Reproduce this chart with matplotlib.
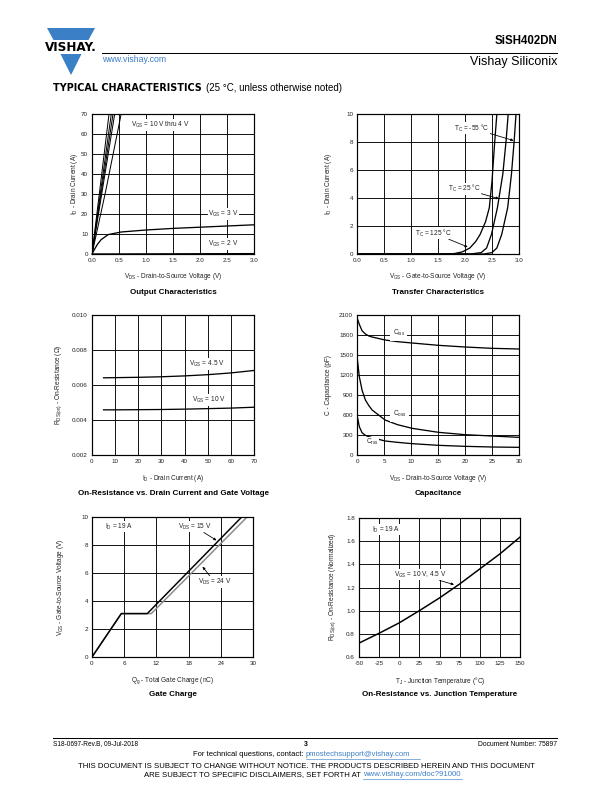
import numpy as np
import matplotlib
matplotlib.use('Agg')
import matplotlib.pyplot as plt
from matplotlib.patches import Polygon

plt.rcParams['font.family'] = ['Liberation Sans', 'DejaVu Sans']
plt.rcParams['mathtext.default'] = 'regular'

W, H = 612, 792
BLUE = '#3b7fc6'

# ---- Output characteristics ----
out_vgs_hi_vds = [[0, 0.315], [0, 0.357], [0, 0.389], [0, 0.42], [0, 0.25, 0.54]]
out_vgs_hi_id = [[0, 70], [0, 70], [0, 70], [0, 70], [0, 31, 70]]
out_vgs3_vds = [0, 0.05, 0.1, 0.17, 0.3, 0.54, 1.0, 1.5, 2.0, 2.5, 3.0]
out_vgs3_id = [0, 2.5, 4.8, 7.2, 9.7, 11.0, 12.0, 12.8, 13.4, 14.0, 14.6]
out_vgs2_vds = [0, 3.0]
out_vgs2_id = [0, 0.2]

# ---- Transfer characteristics ----
tr_125_vgs = [0, 1.6, 1.8, 1.95, 2.09, 2.2, 2.28, 2.38, 2.45, 2.5, 2.55, 2.59]
tr_125_id = [0, 0, 0.03, 0.15, 0.43, 0.9, 1.4, 2.3, 3.3, 5.2, 8.0, 10.0]
tr_25_vgs = [0, 2.1, 2.3, 2.4, 2.49, 2.6, 2.7, 2.76, 2.8]
tr_25_id = [0, 0, 0.1, 0.43, 1.4, 3.3, 5.7, 8.05, 10.0]
tr_m55_vgs = [0, 2.35, 2.5, 2.59, 2.68, 2.79, 2.86, 2.91, 2.945]
tr_m55_id = [0, 0, 0.1, 0.43, 1.4, 3.3, 5.7, 8.05, 10.0]

# ---- On-resistance vs drain current ----
ron_id = [5, 10, 20, 30, 40, 50, 60, 70]
ron_45 = [0.00641, 0.00642, 0.00644, 0.00647, 0.00652, 0.00659, 0.00669, 0.00683]
ron_10 = [0.00458, 0.00458, 0.00459, 0.00460, 0.00462, 0.00465, 0.00468, 0.00473]

# ---- Capacitance ----
cap_vds = [0, 0.43, 0.93, 1.55, 2.2, 2.8, 5.2, 7.5, 10.2, 15.1, 20, 25, 30]
cap_ciss = [2060, 1960, 1865, 1815, 1785, 1770, 1725, 1700, 1680, 1645, 1620, 1600, 1590]
cap_coss = [1480, 1175, 975, 825, 740, 675, 525, 455, 400, 340, 305, 285, 265]
cap_crss = [600, 425, 335, 295, 275, 260, 210, 190, 170, 145, 130, 120, 115]

# ---- Gate charge ----
gc_qg_15 = [0, 5.46, 10.3, 27.9]
gc_qg_24 = [0, 5.46, 11.05, 28.9]
gc_vgs = [0, 3.1, 3.1, 10]

# ---- On-resistance vs junction temperature ----
tj_temp = [-50, -25, 0, 25, 50, 75, 100, 125, 150]
tj_rnorm = [0.72, 0.805, 0.895, 1.0, 1.11, 1.23, 1.36, 1.49, 1.635]


fig = plt.figure(figsize=(W / 72, H / 72), dpi=72)


def px_axes(l, t, r, b):
    return fig.add_axes([l / W, 1 - b / H, (r - l) / W, (b - t) / H])


def ftext(x, y, s, **kw):
    kw.setdefault('ha', 'left')
    kw.setdefault('va', 'center')
    return fig.text(x / W, 1 - y / H, s, **kw)


def style(ax, xlim, ylim, xt, yt, xfmt, yfmt):
    ax.set_xlim(xlim)
    ax.set_ylim(ylim)
    ax.set_xticks(xt)
    ax.set_yticks(yt)
    ax.set_xticklabels([xfmt.format(v) for v in xt])
    ax.set_yticklabels([yfmt.format(v) for v in yt])
    ax.grid(True, color='black', lw=0.9)
    ax.set_axisbelow(True)
    ax.tick_params(length=0, pad=4, labelsize=6.3, colors='#222222')
    for s in ax.spines.values():
        s.set_linewidth(1.2)


FS = 6.5
TFS = 8
lbl = dict(fontsize=FS, color='#222222')
bx = dict(facecolor='white', edgecolor='none', pad=0.6)
LW = 1.3

# Output characteristics
a1 = px_axes(92, 114, 254, 254)
style(a1, (0, 3), (0, 70), np.arange(0, 3.01, 0.5), np.arange(0, 71, 10), '{:.1f}', '{:.0f}')
for xs, ys in zip(out_vgs_hi_vds, out_vgs_hi_id):
    a1.plot(xs, ys, color='black', lw=1.0)
a1.plot(out_vgs3_vds, out_vgs3_id, color='black', lw=LW)
a1.plot(out_vgs2_vds, out_vgs2_id, color='black', lw=LW, clip_on=False)
a1.text(0.72, 64.5, '$V_{GS}$ = 10 V thru 4 V', va='center', bbox=bx, **lbl)
a1.text(2.15, 20, '$V_{GS}$ = 3 V', va='center', bbox=bx, **lbl)
a1.text(2.15, 5, '$V_{GS}$ = 2 V', va='center', bbox=bx, **lbl)
ftext(74, 184, '$I_D$ - Drain Current (A)', rotation=90, ha='center', **lbl)
ftext(173, 277, '$V_{DS}$ - Drain-to-Source Voltage (V)', ha='center', **lbl)
ftext(173, 292, 'Output Characteristics', ha='center', fontsize=TFS, weight='bold')

# Transfer characteristics
a2 = px_axes(357, 114, 519, 254)
style(a2, (0, 3), (0, 10), np.arange(0, 3.01, 0.5), np.arange(0, 11, 2), '{:.1f}', '{:.0f}')
a2.plot(tr_125_vgs, tr_125_id, color='black', lw=LW)
a2.plot(tr_25_vgs, tr_25_id, color='black', lw=LW)
a2.plot(tr_m55_vgs, tr_m55_id, color='black', lw=LW)
ap = dict(arrowstyle='-|>', color='black', lw=0.8, mutation_scale=5, shrinkA=0, shrinkB=0)
a2.annotate('$T_C$ = -55 °C', xy=(2.9, 8.1), xytext=(1.8, 9.0), va='center',
            arrowprops=ap, bbox=bx, **lbl)
a2.annotate('$T_C$ = 25 °C', xy=(2.63, 3.95), xytext=(1.68, 4.65), va='center',
            arrowprops=ap, bbox=bx, **lbl)
a2.annotate('$T_C$ = 125 °C', xy=(2.05, 0.5), xytext=(1.08, 1.5), va='center',
            arrowprops=ap, bbox=bx, **lbl)
ftext(329, 184, '$I_D$ - Drain Current (A)', rotation=90, ha='center', **lbl)
ftext(438, 277, '$V_{GS}$ - Gate-to-Source Voltage (V)', ha='center', **lbl)
ftext(438, 292, 'Transfer Characteristics', ha='center', fontsize=TFS, weight='bold')

# On-resistance vs drain current
a3 = px_axes(92, 315, 254, 455)
style(a3, (0, 70), (0.002, 0.010), np.arange(0, 71, 10), np.arange(0.002, 0.01001, 0.002), '{:.0f}', '{:.3f}')
a3.plot(ron_id, ron_45, color='black', lw=LW)
a3.plot(ron_id, ron_10, color='black', lw=LW)
a3.text(42.0, 0.0072, '$V_{GS}$ = 4.5 V', va='center', bbox=bx, **lbl)
a3.text(43.0, 0.00514, '$V_{GS}$ = 10 V', va='center', bbox=bx, **lbl)
ftext(59, 385, '$R_{DS(on)}$ - On-Resistance (Ω)', rotation=90, ha='center', **lbl)
ftext(173, 479, '$I_D$ - Drain Current (A)', ha='center', **lbl)
ftext(173, 493, 'On-Resistance vs. Drain Current and Gate Voltage', ha='center', fontsize=TFS, weight='bold')

# Capacitance
a4 = px_axes(357, 315, 519, 455)
style(a4, (0, 30), (0, 2100), np.arange(0, 31, 5), np.arange(0, 2101, 300), '{:.0f}', '{:.0f}')
a4.plot(cap_vds, cap_ciss, color='black', lw=LW)
a4.plot(cap_vds, cap_coss, color='black', lw=LW)
a4.plot(cap_vds, cap_crss, color='black', lw=LW)
a4.text(6.6, 1830, '$C_{iss}$', va='center', bbox=dict(facecolor='white', edgecolor='none', pad=2.5), **lbl)
a4.text(6.6, 610, '$C_{oss}$', va='center', bbox=dict(facecolor='white', edgecolor='none', pad=2.5), **lbl)
a4.text(1.6, 190, '$C_{rss}$', va='center', bbox=bx, **lbl)
ftext(329, 385, 'C - Capacitance (pF)', rotation=90, ha='center', **lbl)
ftext(438, 479, '$V_{DS}$ - Drain-to-Source Voltage (V)', ha='center', **lbl)
ftext(438, 493, 'Capacitance', ha='center', fontsize=TFS, weight='bold')

# Gate charge
a5 = px_axes(92, 517, 253, 657)
style(a5, (0, 30), (0, 10), np.arange(0, 31, 6), np.arange(0, 11, 2), '{:.0f}', '{:.0f}')
a5.plot(gc_qg_24, gc_vgs, color='#8a8a8a', lw=1.5)
a5.plot(gc_qg_15, gc_vgs, color='black', lw=1.5)
a5.text(2.4, 9.3, '$I_D$ = 19 A', va='center', bbox=bx, **lbl)
a5.annotate('$V_{DS}$ = 15 V', xy=(23.2, 8.33), xytext=(16.0, 9.3), va='center',
            arrowprops=ap, bbox=bx, **lbl)
a5.annotate('$V_{DS}$ = 24 V', xy=(20.6, 6.45), xytext=(19.7, 5.36), va='center',
            arrowprops=ap, bbox=bx, **lbl)
ftext(61, 587, '$V_{GS}$ - Gate-to-Source Voltage (V)', rotation=90, ha='center', **lbl)
ftext(173, 681, '$Q_g$ - Total Gate Charge (nC)', ha='center', **lbl)
ftext(173, 694, 'Gate Charge', ha='center', fontsize=TFS, weight='bold')

# On-resistance vs junction temperature
a6 = px_axes(359, 518, 520, 657)
style(a6, (-50, 150), (0.6, 1.8), np.arange(-50, 151, 25), np.arange(0.6, 1.81, 0.2), '{:.0f}', '{:.1f}')
a6.plot(tj_temp, tj_rnorm, color='black', lw=1.5)
a6.text(-34, 1.7, '$I_D$ = 19 A', va='center', bbox=bx, **lbl)
a6.annotate('$V_{GS}$ = 10 V, 4.5 V', xy=(68, 1.225), xytext=(-7, 1.31), va='center',
            arrowprops=ap, bbox=bx, **lbl)
ftext(333, 587, '$R_{DS(on)}$ - On-Resistance (Normalized)', rotation=90, ha='center', **lbl)
ftext(440, 681, '$T_J$ - Junction Temperature (°C)', ha='center', **lbl)
ftext(440, 694, 'On-Resistance vs. Junction Temperature', ha='center', fontsize=TFS, weight='bold')

# ---- page header ----
ov = fig.add_axes([0, 0, 1, 1], zorder=-1)
ov.set_xlim(0, W)
ov.set_ylim(H, 0)
ov.axis('off')
ov.add_patch(Polygon([[47, 28], [95, 28], [88.5, 40], [53.5, 40]], closed=True, color=BLUE, lw=0))
ov.add_patch(Polygon([[60.5, 54], [81.5, 54], [71, 75]], closed=True, color=BLUE, lw=0))
ov.text(70.5, 47.5, 'VISHAY.', ha='center', va='center', fontsize=12, weight='bold',
        family=['DejaVu Sans'])
ov.plot([102, 557], [52.5, 52.5], color='black', lw=1.0)
ov.text(102, 59.5, 'www.vishay.com', ha='left', va='center', fontsize=8.8, color=BLUE)
ov.text(557, 41, 'SiSH402DN', ha='right', va='center', fontsize=11.5, weight='bold')
ov.text(557, 62.5, 'Vishay Siliconix', ha='right', va='center', fontsize=12.5)
ov.text(53, 88, 'TYPICAL CHARACTERISTICS', ha='left', va='center', fontsize=9.6, weight='bold',
        family=['DejaVu Sans'])
ov.text(206, 88, '(25 °C, unless otherwise noted)', ha='left', va='center', fontsize=9.7)

# ---- page footer ----
ov.plot([53, 557], [738, 738], color='black', lw=1.0)
ov.text(53, 744, 'S18-0697-Rev.B, 09-Jul-2018', ha='left', va='center', fontsize=6.5)
ov.text(306, 745, '3', ha='center', va='center', fontsize=7, weight='bold')
ov.text(557, 744, 'Document Number: 75897', ha='right', va='center', fontsize=6.8)
ov.text(306, 754.5, 'For technical questions, contact: ', ha='right', va='center', fontsize=7.6)
ov.text(306, 754.5, 'pmostechsupport@vishay.com', ha='left', va='center', fontsize=7.6, color=BLUE)
ov.plot([306, 420], [758.5, 758.5], color=BLUE, lw=0.6)
ov.text(306, 766, 'THIS DOCUMENT IS SUBJECT TO CHANGE WITHOUT NOTICE. THE PRODUCTS DESCRIBED HEREIN AND THIS DOCUMENT',
        ha='center', va='center', fontsize=7.8)
ov.text(363, 774.5, 'ARE SUBJECT TO SPECIFIC DISCLAIMERS, SET FORTH AT ', ha='right', va='center', fontsize=7.8)
ov.text(363, 774.5, 'www.vishay.com/doc?91000', ha='left', va='center', fontsize=7.8, color=BLUE)
ov.plot([363, 462], [778.5, 778.5], color=BLUE, lw=0.6)

fig.savefig('out.png', dpi=72)
